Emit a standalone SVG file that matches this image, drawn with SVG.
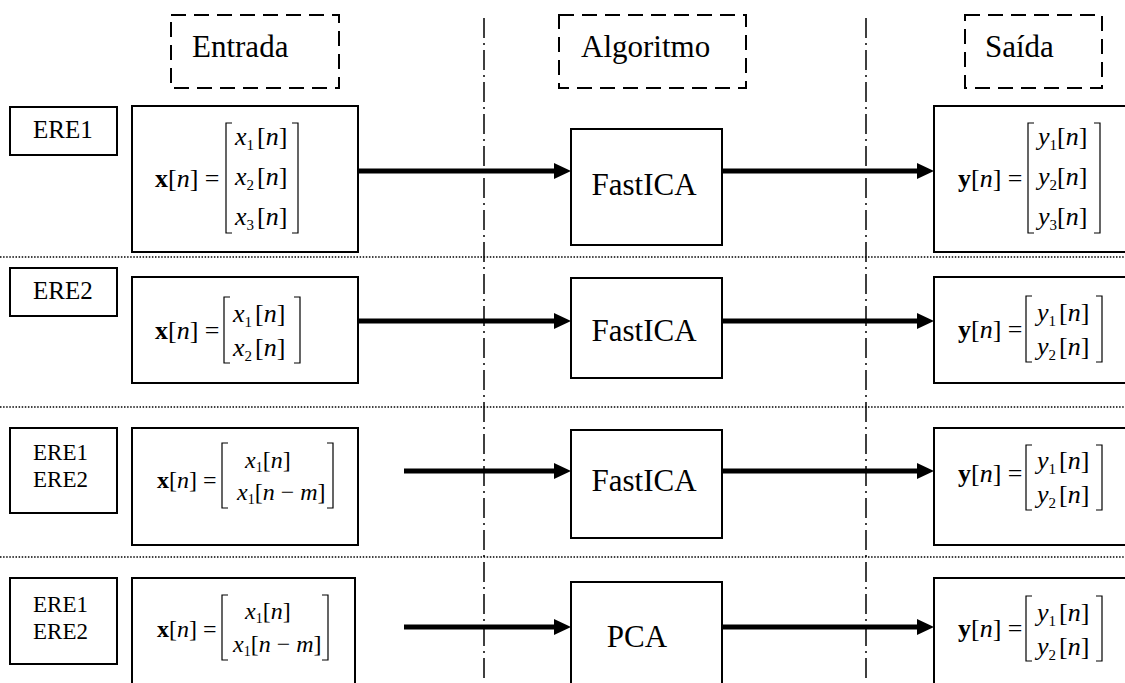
<svg xmlns="http://www.w3.org/2000/svg" width="1125" height="683" viewBox="0 0 1125 683">
<defs>
<style>
.box{fill:#fff;stroke:#000;stroke-width:2}
.hdr{fill:none;stroke:#000;stroke-width:2;stroke-dasharray:15 8}
.vline{stroke:#000;stroke-width:1.5;stroke-dasharray:20 5 2 5;fill:none}
.hline{stroke:#000;stroke-width:1.6;stroke-dasharray:1.5 1.6;fill:none}
.arr{stroke:#000;stroke-width:5;fill:none;marker-end:url(#ah)}
.br{fill:none;stroke:#000;stroke-width:1.2}
.t{font-family:"Liberation Serif","Times New Roman",serif;fill:#000}
.lbl{font-size:31px}
.ere{font-size:25px}
.ere2{font-size:23px}
.m{font-size:26px}
.m2{font-size:24px}
.it{font-style:italic}
.bf{font-weight:bold}
</style>
<marker id="ah" markerUnits="userSpaceOnUse" markerWidth="17" markerHeight="16" refX="1" refY="8" orient="auto">
<path d="M0,0 L17,8 L0,16 Z" fill="#000"/>
</marker>
</defs>
<rect width="1125" height="683" fill="#fff"/>

<g id="separators">
<line class="vline" x1="484" y1="18" x2="484" y2="683"/>
<line class="vline" x1="866" y1="18" x2="866" y2="683"/>
<line class="hline" x1="0" y1="257" x2="1125" y2="257"/>
<line class="hline" x1="0" y1="407" x2="1125" y2="407"/>
<line class="hline" x1="0" y1="557" x2="1125" y2="557"/>
</g>

<g id="hdr-entrada">
<rect class="hdr" x="171" y="15" width="168" height="73"/>
<text class="t lbl" x="192" y="57">Entrada</text>
</g>
<g id="hdr-algoritmo">
<rect class="hdr" x="559" y="15" width="187" height="73"/>
<text class="t lbl" x="581" y="57">Algoritmo</text>
</g>
<g id="hdr-saida">
<rect class="hdr" x="965" y="15" width="137" height="73"/>
<text class="t lbl" x="985" y="57">Saída</text>
</g>

<g id="connectors">
<line class="arr" x1="358" y1="171" x2="555" y2="171"/>
<line class="arr" x1="722" y1="171" x2="918" y2="171"/>
<line class="arr" x1="358" y1="321" x2="555" y2="321"/>
<line class="arr" x1="722" y1="321" x2="918" y2="321"/>
<line class="arr" x1="404" y1="471" x2="555" y2="471"/>
<line class="arr" x1="722" y1="471" x2="918" y2="471"/>
<line class="arr" x1="404" y1="627" x2="555" y2="627"/>
<line class="arr" x1="722" y1="627" x2="918" y2="627"/>
</g>

<!-- Row 1 -->
<g id="r1-src">
<rect class="box" x="10" y="107" width="107" height="48"/>
<text class="t ere" x="33" y="138">ERE1</text>
</g>
<g id="r1-in">
<rect class="box" x="132" y="106" width="226" height="146"/>
<text class="t m" x="155" y="187"><tspan class="bf">x</tspan>[<tspan class="it">n</tspan>] =</text>
<path class="br" d="M232,123 H226 V233 H232 M292,123 H298 V233 H292"/>
<text class="t m" x="235" y="145"><tspan class="it">x</tspan><tspan font-size="15" dy="5">1</tspan><tspan dy="-5" dx="3">[</tspan><tspan class="it">n</tspan>]</text>
<text class="t m" x="235" y="185"><tspan class="it">x</tspan><tspan font-size="15" dy="5">2</tspan><tspan dy="-5" dx="3">[</tspan><tspan class="it">n</tspan>]</text>
<text class="t m" x="235" y="225"><tspan class="it">x</tspan><tspan font-size="15" dy="5">3</tspan><tspan dy="-5" dx="3">[</tspan><tspan class="it">n</tspan>]</text>
</g>
<g id="r1-alg">
<rect class="box" x="571" y="129" width="151" height="116"/>
<text class="t lbl" x="644" y="195" text-anchor="middle">FastICA</text>
</g>
<g id="r1-out">
<rect class="box" x="934" y="106" width="200" height="146"/>
<text class="t m" x="958" y="187"><tspan class="bf">y</tspan>[<tspan class="it">n</tspan>] =</text>
<path class="br" d="M1034,123 H1028 V233 H1034 M1094,123 H1100 V233 H1094"/>
<text class="t m" x="1038" y="145"><tspan class="it">y</tspan><tspan font-size="15" dy="5">1</tspan><tspan dy="-5">[</tspan><tspan class="it">n</tspan>]</text>
<text class="t m" x="1038" y="185"><tspan class="it">y</tspan><tspan font-size="15" dy="5">2</tspan><tspan dy="-5">[</tspan><tspan class="it">n</tspan>]</text>
<text class="t m" x="1038" y="225"><tspan class="it">y</tspan><tspan font-size="15" dy="5">3</tspan><tspan dy="-5">[</tspan><tspan class="it">n</tspan>]</text>
</g>

<!-- Row 2 -->
<g id="r2-src">
<rect class="box" x="10" y="268" width="107" height="48"/>
<text class="t ere" x="33" y="299">ERE2</text>
</g>
<g id="r2-in">
<rect class="box" x="132" y="277" width="226" height="106"/>
<text class="t m" x="155" y="339"><tspan class="bf">x</tspan>[<tspan class="it">n</tspan>] =</text>
<path class="br" d="M230,297 H224 V363 H230 M294,297 H300 V363 H294"/>
<text class="t m" x="233" y="322"><tspan class="it">x</tspan><tspan font-size="15" dy="5">1</tspan><tspan dy="-5" dx="3">[</tspan><tspan class="it">n</tspan>]</text>
<text class="t m" x="233" y="356"><tspan class="it">x</tspan><tspan font-size="15" dy="5">2</tspan><tspan dy="-5" dx="3">[</tspan><tspan class="it">n</tspan>]</text>
</g>
<g id="r2-alg">
<rect class="box" x="571" y="278" width="151" height="100"/>
<text class="t lbl" x="644" y="341" text-anchor="middle">FastICA</text>
</g>
<g id="r2-out">
<rect class="box" x="934" y="277" width="200" height="106"/>
<text class="t m" x="958" y="338"><tspan class="bf">y</tspan>[<tspan class="it">n</tspan>] =</text>
<path class="br" d="M1032,296 H1026 V362 H1032 M1096,296 H1102 V362 H1096"/>
<text class="t m" x="1037" y="321"><tspan class="it">y</tspan><tspan font-size="15" dy="5">1</tspan><tspan dy="-5" dx="3">[</tspan><tspan class="it">n</tspan>]</text>
<text class="t m" x="1037" y="355"><tspan class="it">y</tspan><tspan font-size="15" dy="5">2</tspan><tspan dy="-5" dx="3">[</tspan><tspan class="it">n</tspan>]</text>
</g>

<!-- Row 3 -->
<g id="r3-src">
<rect class="box" x="10" y="428" width="107" height="85"/>
<text class="t ere2" x="33" y="460">ERE1</text>
<text class="t ere2" x="33" y="487">ERE2</text>
</g>
<g id="r3-in">
<rect class="box" x="132" y="428" width="226" height="117"/>
<text class="t m2" x="157" y="488"><tspan class="bf">x</tspan>[<tspan class="it">n</tspan>] =</text>
<path class="br" d="M228,443 H222 V508 H228 M327,443 H333 V508 H327"/>
<text class="t m2" x="245" y="468"><tspan class="it">x</tspan><tspan font-size="14" dy="4">1</tspan><tspan dy="-4">[</tspan><tspan class="it">n</tspan>]</text>
<text class="t m2" x="237" y="500"><tspan class="it">x</tspan><tspan font-size="14" dy="4">1</tspan><tspan dy="-4">[</tspan><tspan class="it">n</tspan> − <tspan class="it">m</tspan>]</text>
</g>
<g id="r3-alg">
<rect class="box" x="571" y="430" width="151" height="108"/>
<text class="t lbl" x="644" y="491" text-anchor="middle">FastICA</text>
</g>
<g id="r3-out">
<rect class="box" x="934" y="428" width="200" height="117"/>
<text class="t m" x="958" y="482"><tspan class="bf">y</tspan>[<tspan class="it">n</tspan>] =</text>
<path class="br" d="M1032,445 H1026 V510 H1032 M1096,445 H1102 V510 H1096"/>
<text class="t m" x="1037" y="469"><tspan class="it">y</tspan><tspan font-size="15" dy="5">1</tspan><tspan dy="-5" dx="3">[</tspan><tspan class="it">n</tspan>]</text>
<text class="t m" x="1037" y="503"><tspan class="it">y</tspan><tspan font-size="15" dy="5">2</tspan><tspan dy="-5" dx="3">[</tspan><tspan class="it">n</tspan>]</text>
</g>

<!-- Row 4 -->
<g id="r4-src">
<rect class="box" x="10" y="578" width="107" height="86"/>
<text class="t ere2" x="33" y="612">ERE1</text>
<text class="t ere2" x="33" y="639">ERE2</text>
</g>
<g id="r4-in">
<rect class="box" x="132" y="578" width="223" height="120"/>
<text class="t m2" x="157" y="637"><tspan class="bf">x</tspan>[<tspan class="it">n</tspan>] =</text>
<path class="br" d="M228,595 H222 V660 H228 M322,595 H328 V660 H322"/>
<text class="t m2" x="245" y="619"><tspan class="it">x</tspan><tspan font-size="14" dy="4">1</tspan><tspan dy="-4">[</tspan><tspan class="it">n</tspan>]</text>
<text class="t m2" x="233" y="652"><tspan class="it">x</tspan><tspan font-size="14" dy="4">1</tspan><tspan dy="-4">[</tspan><tspan class="it">n</tspan> − <tspan class="it">m</tspan>]</text>
</g>
<g id="r4-alg">
<rect class="box" x="571" y="582" width="151" height="120"/>
<text class="t lbl" x="637" y="647" text-anchor="middle">PCA</text>
</g>
<g id="r4-out">
<rect class="box" x="934" y="578" width="200" height="120"/>
<text class="t m" x="958" y="637"><tspan class="bf">y</tspan>[<tspan class="it">n</tspan>] =</text>
<path class="br" d="M1032,596 H1026 V661 H1032 M1096,596 H1102 V661 H1096"/>
<text class="t m" x="1037" y="621"><tspan class="it">y</tspan><tspan font-size="15" dy="5">1</tspan><tspan dy="-5" dx="3">[</tspan><tspan class="it">n</tspan>]</text>
<text class="t m" x="1037" y="655"><tspan class="it">y</tspan><tspan font-size="15" dy="5">2</tspan><tspan dy="-5" dx="3">[</tspan><tspan class="it">n</tspan>]</text>
</g>
</svg>
